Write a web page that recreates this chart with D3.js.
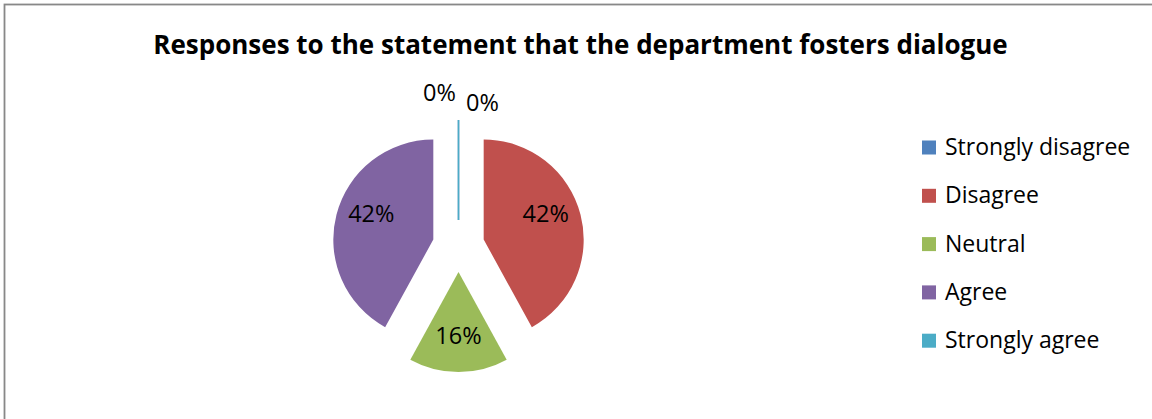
<!DOCTYPE html>
<html><head><meta charset="utf-8">
<script src="https://cdn.jsdelivr.net/npm/d3@7"></script>
<style>body{margin:0;background:#fff}svg{display:block;font-family:"Open Sans",Lato,sans-serif}</style>
</head><body>
<svg id="c" width="1152" height="419"></svg>
<script>
const title = "Responses to the statement that the department fosters dialogue";
const categories = ["Strongly disagree","Disagree","Neutral","Agree","Strongly agree"];
const values = [0, 42, 16, 42, 0];
const colors = ["#4f81bd","#c0504d","#9bbb59","#8064a2","#4bacc6"];

const svg = d3.select("#c");
svg.append("rect").attr("x",4.5).attr("y",4.5).attr("width",1170).attr("height",440)
  .attr("fill","#fff").attr("stroke","#888").attr("stroke-width",1.8);

svg.append("text").attr("x",580.5).attr("y",54).attr("text-anchor","middle")
  .attr("font-weight","bold").attr("font-size",26).attr("fill","#000").text(title);

const cx = 458.5, cy = 246, R = 100, explode = 26;
const pie = d3.pie().sort(null).value(d=>d);
const arcs = pie(values);
const arc = d3.arc().innerRadius(0).outerRadius(R);
const labelArc = d3.arc().innerRadius(R*0.64).outerRadius(R*0.64);
const total = d3.sum(values);
const fmt = v => Math.round(v/total*100) + "%";

const g = svg.append("g").attr("transform",`translate(${cx},${cy})`);
const slices = g.selectAll("g.s").data(arcs).enter().append("g")
  .attr("transform", d => {
    const a = (d.startAngle + d.endAngle)/2;
    return `translate(${explode*Math.sin(a)},${-explode*Math.cos(a)})`;
  });
slices.append("path").attr("d", arc)
  .attr("fill",(d,i)=>colors[i])
  .attr("stroke",(d,i)=> d.value===0 ? colors[i] : "none")
  .attr("stroke-width",1.5);

slices.each(function(d,i){
  const s = d3.select(this);
  let x, y;
  if (d.value === 0) {
    x = (i === 0 ? -19 : 24);
    y = -R - (i === 0 ? 27.5 : 17.5);
  } else {
    const a = (d.startAngle + d.endAngle)/2;
    [x, y] = labelArc.centroid(d);
    y -= 10*Math.abs(Math.sin(a));
  }
  s.append("text").attr("x",x).attr("y",y).attr("dy","0.35em")
    .attr("text-anchor","middle").attr("font-size",23.5).attr("fill","#000")
    .text(fmt(d.value));
});

const leg = svg.append("g").attr("transform","translate(922,147)");
const rows = leg.selectAll("g").data(categories).enter().append("g")
  .attr("transform",(d,i)=>`translate(0,${i*48.3})`);
rows.append("rect").attr("x",0).attr("y",-6.5).attr("width",14).attr("height",14)
  .attr("fill",(d,i)=>colors[i]);
rows.append("text").attr("x",23).attr("y",0).attr("dy","0.35em")
  .attr("font-size",23).attr("fill","#000").text(d=>d);
</script>
</body></html>
